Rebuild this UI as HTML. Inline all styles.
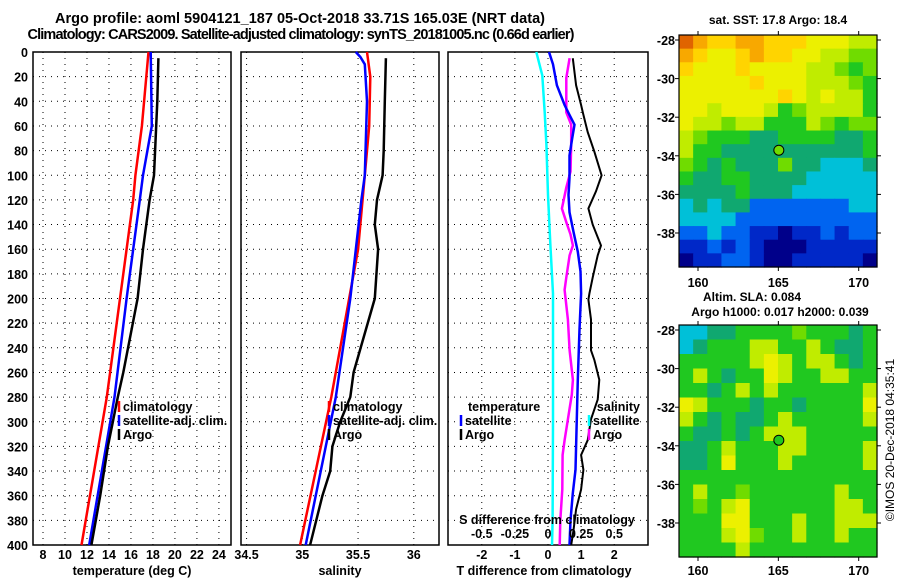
<!DOCTYPE html>
<html><head><meta charset="utf-8"><style>
html,body{margin:0;padding:0;background:#fff;}
svg{display:block;font-family:"Liberation Sans",sans-serif;font-weight:bold;}
</style></head><body>
<svg id="fig" width="900" height="580" viewBox="0 0 900 580" xmlns="http://www.w3.org/2000/svg">
<text x="300" y="23" font-size="14.5" text-anchor="middle" textLength="490">Argo profile: aoml 5904121_187 05-Oct-2018 33.71S 165.03E (NRT data)</text>
<text x="301" y="39" font-size="14.5" text-anchor="middle" textLength="547">Climatology: CARS2009. Satellite-adjusted climatology: synTS_20181005.nc (0.66d earlier)</text>
<g id="g"></g>
</svg>
<script>
// ---------- data ----------
const depthTicks=[0,20,40,60,80,100,120,140,160,180,200,220,240,260,280,300,320,340,360,380,400];
const tempTicks=[8,10,12,14,16,18,20,22,24];
const salTicks=[34.5,35,35.5,36];
const tdiffTicks=[-2,-1,0,1,2];
const sdiffTicks=[-0.5,-0.25,0,0.25,0.5];
const sdiffLabels=["-0.5","-0.25","0","0.25","0.5"];

const climTD=[0,20,60,100,120,160,200,240,280,400];
const climT=[17.6,17.4,17.0,16.4,16.2,15.6,15.0,14.4,13.8,11.5];
const satTD=[0,60,80,100,120,200,280,400];
const satT=[17.8,17.9,17.5,17.1,16.8,15.6,14.5,12.2];
const argoTD=[5,40,80,100,120,160,200,260,280,320,360,400];
const argoT=[18.5,18.4,18.2,18.1,17.7,17.1,16.6,15.3,14.8,13.9,13.2,12.4];

const climSD=[0,20,60,100,160,280,400];
const climS=[35.58,35.61,35.60,35.56,35.50,35.26,34.98];
const satSD=[0,4,10,40,100,120,200,280,400];
const satS=[35.48,35.52,35.56,35.58,35.56,35.53,35.43,35.30,35.03];
const argoSD=[5,40,80,100,120,140,160,200,260,280,300,320,340,360,400];
const argoS=[35.75,35.74,35.73,35.72,35.67,35.65,35.68,35.65,35.46,35.43,35.34,35.27,35.25,35.18,35.07];

const dTD=[0,10,27,43,51,59,70,84,102,116,130,146,162,178,196,225,266,339,358,380,400];
const satTdiff=[0.03,0.15,0.27,0.5,0.65,0.8,0.73,0.65,0.65,0.62,0.65,0.77,0.9,0.98,1.0,0.95,0.9,0.83,0.75,0.68,0.65];
const aTD=[5,27,43,49,65,81,100,113,127,140,157,165,183,196,201,217,242,250,266,282,298,315,327,339,355,371,388,400];
const argoTdiff=[0.75,0.85,1.0,1.05,1.2,1.4,1.62,1.45,1.22,1.35,1.6,1.5,1.35,1.25,1.22,1.3,1.3,1.4,1.55,1.5,1.3,1.2,1.0,1.07,1.0,0.85,0.77,0.7];
const sDD=[0,19,49,75,116,157,196,300,380,400];
const satSdiff=[-0.088,-0.043,-0.025,-0.012,0,0.018,0.038,0.038,0.035,0.03];
const mD=[5,21,49,59,75,97,110,127,138,148,157,165,183,193,217,242,266,278,298,315,327,355,380,400];
const argoSdiff=[0.163,0.138,0.138,0.175,0.175,0.17,0.138,0.105,0.138,0.17,0.188,0.163,0.138,0.125,0.15,0.163,0.188,0.18,0.15,0.125,0.11,0.108,0.093,0.088];

const latTicks=[-28,-30,-32,-34,-36,-38];
const lonTicks=[160,165,170];
const argoLon=165.03, argoLat=-33.71;
const sstGrid=["BA99AA99988877","A9889A99887766","98889888877656","88888988877765","88888889878775","88788875677775","87767755576566","76555445555445","75544444444445","65454446443334","54455444433333","44445444333333","34344222222233","33332222222222","22322110112122","11212100011111","01122100111110"];
const slaGrid=["33445555655545","34555775575445","55555787577545","57545587557755","55457575555557","87555455455558","75454457555557","54454577755555","44575557755557","44585557555557","55555555555555","57556555555755","56578555555775","55588555755777","55578655755755","55557555555555"];
const pal={"0":"#00008a","1":"#0028c8","2":"#0064f0","3":"#00c0d8","4":"#10a870","5":"#20c820","6":"#70dc00","7":"#c0ec00","8":"#ecf000","9":"#ffd400","A":"#f8a800","B":"#e06400"};

// ---------- drawing ----------
const NS="http://www.w3.org/2000/svg";
const G=document.getElementById('g');
function mk(t,a,p){const e=document.createElementNS(NS,t);for(const k in a)e.setAttribute(k,a[k]);(p||G).appendChild(e);return e;}
const yTop=52,yBot=545;
const yD=d=>yTop+d*(yBot-yTop)/400;
const panels=[{x0:33,x1:231,v0:7.09,v1:25.1},{x0:241,x1:439,v0:34.45,v1:36.226},{x0:448,x1:648,v0:-3.02,v1:3.02}];
const sx=(p,v)=>p.x0+(v-p.v0)*(p.x1-p.x0)/(p.v1-p.v0);

panels.forEach((p,i)=>{
  depthTicks.forEach(d=>{
    const l=mk('line',{x1:p.x0,x2:p.x1,y1:yD(d),y2:yD(d),stroke:'#000','stroke-width':1,'stroke-dasharray':'1,5'});
    
    
  });
});
const vt=[tempTicks,salTicks,tdiffTicks];
panels.forEach((p,i)=>{
  vt[i].forEach(v=>{
    const l=mk('line',{x1:sx(p,v),x2:sx(p,v),y1:yTop,y2:yBot,stroke:'#000','stroke-width':1,'stroke-dasharray':'1,5'});
    
    
    const t=mk('text',{x:sx(p,v),y:559,'font-size':12.5,'text-anchor':'middle'});t.textContent=String(v);
    
    
  });
  const r=mk('rect',{x:p.x0,y:yTop,width:p.x1-p.x0,height:yBot-yTop,fill:'none',stroke:'#000','stroke-width':1.5});
  
  
});
depthTicks.forEach(d=>{
  const t=mk('text',{x:28,y:yD(d)+5,'font-size':12.5,'text-anchor':'end'});t.textContent=String(d);
  
  
});
[["temperature (deg C)",132],["salinity",340],["T difference from climatology",544]].forEach(([s,x])=>{
  const t=mk('text',{x:x,y:575,'font-size':12.5,'text-anchor':'middle'});t.textContent=s;
  
  
});
function series(p,vals,ds,col,w,name,scale){
  const pts=vals.map((v,k)=>sx(p,v*(scale||1)).toFixed(1)+','+yD(ds[k]).toFixed(1)).join(' ');
  const l=mk('polyline',{points:pts,fill:'none',stroke:col,'stroke-width':w});
  
  
}
const P=panels;
series(P[0],climT,climTD,'#f00',2.5,'temp-climatology-line');
series(P[0],satT,satTD,'#00f',2.5,'temp-satellite-line');
series(P[0],argoT,argoTD,'#000',2.5,'temp-argo-line');
series(P[1],climS,climSD,'#f00',2.5,'sal-climatology-line');
series(P[1],satS,satSD,'#00f',2.5,'sal-satellite-line');
series(P[1],argoS,argoSD,'#000',2.5,'sal-argo-line');
series(P[2],satSdiff,sDD,'#0ff',2.5,'sdiff-satellite-line',4);
series(P[2],argoSdiff,mD,'#f0f',2.5,'sdiff-argo-line',4);
series(P[2],satTdiff,dTD,'#00f',2.5,'tdiff-satellite-line');
series(P[2],argoTdiff,aTD,'#000',2,'tdiff-argo-line');
sdiffTicks.forEach((v,k)=>{
  const t=mk('text',{x:sx(P[2],v*4),y:538,'font-size':12.5,'text-anchor':'middle'});t.textContent=sdiffLabels[k];
  
  
});
{const t=mk('text',{x:547,y:524,'font-size':12.5,'text-anchor':'middle'});t.textContent='S difference from climatology';

}
function leg(x,y,col,label,anchor){
  const m=mk('line',{x1:x,x2:x,y1:y-10,y2:y+1,stroke:col,'stroke-width':2.5});
  
  
  const t=mk('text',{x:anchor==='end'?x-3:x+4,y:y,'font-size':12.5,'text-anchor':anchor||'start'});t.textContent=label;
  
  
}
leg(119,411,'#f00','climatology');leg(119,425,'#00f','satellite-adj. clim.');leg(119,439,'#000','Argo');
leg(329,411,'#f00','climatology');leg(329,425,'#00f','satellite-adj. clim.');leg(329,439,'#000','Argo');
{const t=mk('text',{x:468,y:411,'font-size':12.5});t.textContent='temperature';


const t2=mk('text',{x:640,y:411,'font-size':12.5,'text-anchor':'end'});t2.textContent='salinity';

}
leg(461,425,'#00f','satellite');leg(461,439,'#000','Argo');
leg(589,425,'#0ff','satellite');leg(589,439,'#f0f','Argo');

// ---------- maps ----------
const maps=[{x0:679,x1:877,y0:35,y1:267,latTopY:40,latBotY:233,grid:sstGrid,name:'sst-map',lonY:287},
            {x0:679,x1:877,y0:325,y1:557,latTopY:330,latBotY:523,grid:slaGrid,name:'sla-map',lonY:575}];
const lonX=lon=>698+(lon-160)*16.07;
maps.forEach(m=>{
  const latY=lat=>m.latTopY+(-28-lat)*(m.latBotY-m.latTopY)/10;
  const rows=m.grid.length, cols=m.grid[0].length;
  const cw=(m.x1-m.x0)/cols, ch=(m.y1-m.y0)/rows;
  m.grid.forEach((row,r)=>{
    for(let c=0;c<cols;c++){
      const e=mk('rect',{x:(m.x0+c*cw).toFixed(2),y:(m.y0+r*ch).toFixed(2),width:(cw+0.6).toFixed(2),height:(ch+0.6).toFixed(2),fill:pal[row[c]]});
      
      
    }
  });
  const fr=mk('rect',{x:m.x0,y:m.y0,width:m.x1-m.x0,height:m.y1-m.y0,fill:'none',stroke:'#000','stroke-width':1.2});
  
  
  latTicks.forEach(l=>{
    const y=latY(l);
    mk('line',{x1:m.x0-4,x2:m.x0,y1:y,y2:y,stroke:'#000'});
    mk('line',{x1:m.x1,x2:m.x1+4,y1:y,y2:y,stroke:'#000'});
    const t=mk('text',{x:675,y:y+5,'font-size':12.5,'text-anchor':'end'});t.textContent=String(l);
    
    
  });
  lonTicks.forEach(l=>{
    const x=lonX(l);
    mk('line',{x1:x,x2:x,y1:m.y0-4,y2:m.y0,stroke:'#000'});
    mk('line',{x1:x,x2:x,y1:m.y1,y2:m.y1+4,stroke:'#000'});
    const t=mk('text',{x:x,y:m.lonY,'font-size':12.5,'text-anchor':'middle'});t.textContent=String(l);
    
    
  });
  const c=mk('circle',{cx:lonX(argoLon),cy:latY(argoLat),r:5,fill:m.name==='sst-map'?'#70dc00':'#20c820',stroke:'#000','stroke-width':1});
  
  
});
[["sat. SST: 17.8 Argo: 18.4",778,24,'sst-map-title'],["Altim. SLA: 0.084",752,301,'sla-map-title'],["Argo h1000: 0.017 h2000: 0.039",780,316,'sla-map-subtitle']].forEach(([s,x,y,n])=>{
  const t=mk('text',{x:x,y:y,'font-size':12,'text-anchor':'middle'});t.textContent=s;
  
  
});
{const t=mk('text',{x:0,y:0,'font-size':12,'font-weight':'normal','text-anchor':'middle',transform:'translate(894,440) rotate(-90)'});t.textContent='©IMOS 20-Dec-2018 04:35:41';

}
</script>
</body></html>
